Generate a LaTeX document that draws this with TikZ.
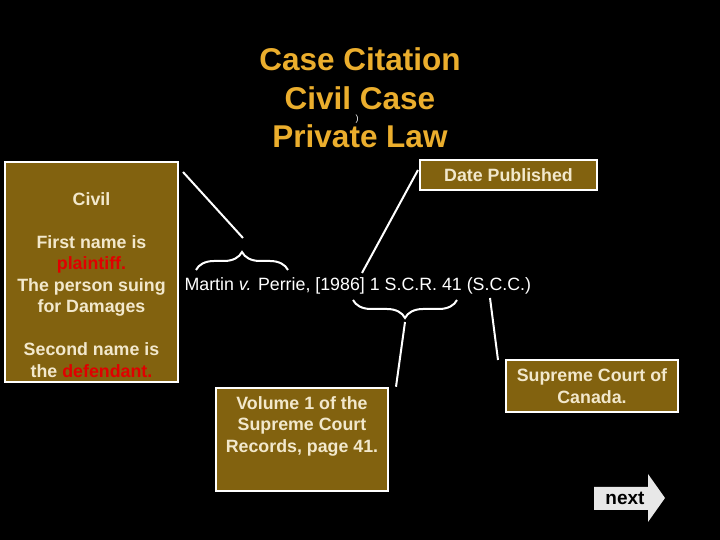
\documentclass[tikz,border=0pt]{standalone}
\usepackage{fontspec}
\setmainfont{Liberation Sans}
\usetikzlibrary{decorations.pathreplacing}
\definecolor{boxfill}{HTML}{82620F}
\definecolor{cream}{HTML}{F2E8CC}
\definecolor{gold}{HTML}{EBAE2D}
\definecolor{redtxt}{HTML}{E00000}
\definecolor{arrowgrey}{HTML}{E8E8E8}
\begin{document}
\begin{tikzpicture}[x=1pt,y=1pt,
  infobox/.style={draw=white,line width=2.5pt,fill=boxfill,inner sep=0pt},
  boxtext/.style={text=cream,font=\fontsize{17.8}{21.5}\selectfont\bfseries,align=center},
  titletext/.style={text=gold,font=\fontsize{31.5}{38.5}\selectfont\bfseries,align=center},
  pointer/.style={draw=white,line width=2pt},
  bracestyle/.style={draw=white,line width=2pt,decorate,decoration={brace,amplitude=18pt}}]
\fill[black] (0,0) rectangle (720,540);
\node[titletext] (title) at (360,442) {Case Citation\\Civil Case\\Private Law};
\node[text=white,font=\fontsize{9}{9}\selectfont] (paren) at (357,421) {)};
% boxes
\node[infobox,minimum width=173pt,minimum height=220pt] (civil) at (91.5,268) {};
\node[boxtext] (civiltext) at (91.5,255) {Civil\\[21.5pt]First name is\\\textcolor{redtxt}{plaintiff.}\\The person suing\\for Damages\\[21.5pt]Second name is\\the \textcolor{redtxt}{defendant.}};
\node[infobox,minimum width=177pt,minimum height=30pt] (date) at (508.5,365) {};
\node[boxtext] (datetext) at (508.5,365) {Date Published};
\node[infobox,minimum width=172pt,minimum height=52pt] (scc) at (592,154) {};
\node[boxtext] (scctext) at (592,154) {Supreme Court of\\Canada.};
\node[infobox,minimum width=172pt,minimum height=103pt] (vol) at (302,100.5) {};
\node[boxtext] (voltext) at (302,114) {Volume 1 of the\\Supreme Court\\Records, page 41.};
% citation
\node[text=white,font=\fontsize{17.8}{20}\selectfont,anchor=west] (cite) at (181,254) {Martin \textit{v.} Perrie, [1986] 1 S.C.R. 41 (S.C.C.)};
% braces
\coordinate (b1l) at (196,270); \coordinate (b1r) at (288,270);
\draw[bracestyle] (b1l) -- (b1r);
\coordinate (b2r) at (457,240); \coordinate (b2l) at (353,240);
\draw[bracestyle] (b2r) -- (b2l);
\coordinate (t1) at (243,302);
\coordinate (s1) at (183,368);
\draw[pointer] (s1) -- (t1);
\coordinate (d1) at (418,370); \coordinate (d2) at (362,267);
\draw[pointer] (d1) -- (d2);
\coordinate (v1) at (405,218);
\draw[pointer] (v1) -- (vol.north -| 396,0);
\coordinate (c1) at (490,242);
\draw[pointer] (c1) -- (498,180);
% next arrow
\fill[arrowgrey] (594,53) -- (648,53) -- (648,66) -- (665,42) -- (648,18) -- (648,30) -- (594,30) -- cycle;
\node[text=black,font=\fontsize{19}{20}\selectfont\bfseries] (next) at (625,42) {next};
\end{tikzpicture}
\end{document}
